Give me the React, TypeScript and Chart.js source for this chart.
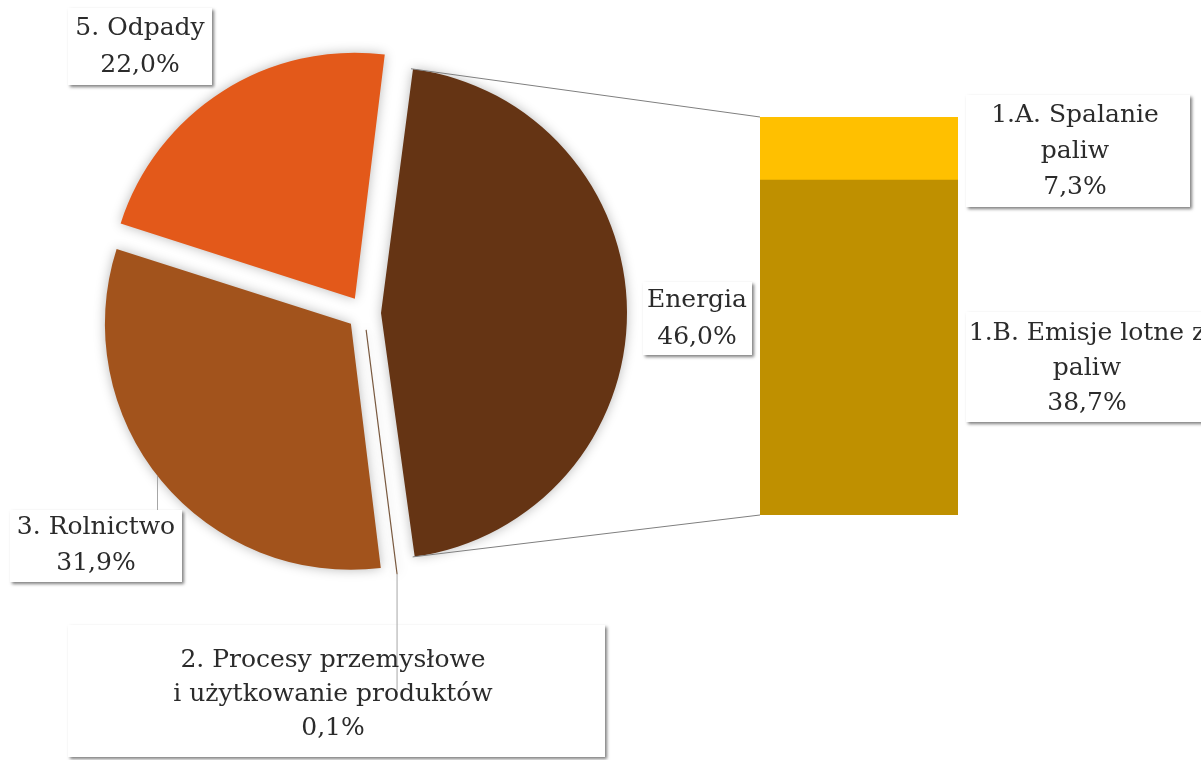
import React, { useEffect, useRef } from "react";
import { Chart, registerables } from "chart.js";

Chart.register(...registerables);

// ---- data ----
const PIE_CATEGORIES = ["Energia", "2. Procesy przemysłowe i użytkowanie produktów", "3. Rolnictwo", "5. Odpady"];
const PIE_LABEL_LINES = [["Energia"], ["2. Procesy przemysłowe", "i użytkowanie produktów"], ["3. Rolnictwo"], ["5. Odpady"]];
const PIE_VALUES = [46.0, 0.1, 31.9, 22.0];
const PIE_COLORS = ["#653414", "#7a5a40", "#A2531C", "#E3591A"];

const BAR_CATEGORIES = ["1.B. Emisje lotne z paliw", "1.A. Spalanie paliw"];
const BAR_LABEL_LINES = [["1.B. Emisje lotne z", "paliw"], ["1.A. Spalanie", "paliw"]];
const BAR_VALUES = [38.7, 7.3];
const BAR_COLORS = ["#BF9000", "#FFC000"];

// ---- layout (positions / styles) ----
const W = 1201;
const H = 760;
const PIE_CENTER = { x: 364, y: 313 };
const PIE_RADIUS = 246;
const PIE_EXPLODE = 17; // px translation of each slice
const PIE_ROTATION = 7;
const BAR_AREA = { left: 760, right: 958, top: 117, bottom: 515 };
const FONT = '25px "DejaVu Serif"';
const TEXT_COLOR = "#2b2b2b";

const PIE_BOXES = [
  { x0: 643, y0: 282, x1: 752, y1: 355, cx: 697, ys: [300, 337] },
  { x0: 68, y0: 625, x1: 605, y1: 757, cx: 333, ys: [660, 694, 728] },
  { x0: 10, y0: 510, x1: 182, y1: 582, cx: 96, ys: [527, 563] },
  { x0: 68, y0: 8, x1: 212, y1: 85, cx: 140, ys: [28, 65] },
];
const BAR_BOXES = [
  { x0: 966, y0: 312, x1: 1215, y1: 422, cx: 1087, ys: [333, 368, 403] },
  { x0: 966, y0: 95, x1: 1190, y1: 207, cx: 1075, ys: [115, 151, 187] },
];

const fmt = (v: number) => v.toFixed(1).replace(".", ",") + "%";

function drawBox(ctx: CanvasRenderingContext2D, b: any) {
  ctx.save();
  ctx.shadowColor = "rgba(0,0,0,0.5)";
  ctx.shadowOffsetX = 2;
  ctx.shadowOffsetY = 2;
  ctx.shadowBlur = 3;
  ctx.fillStyle = "#ffffff";
  ctx.fillRect(b.x0, b.y0, b.x1 - b.x0, b.y1 - b.y0);
  ctx.restore();
}

function drawText(ctx: CanvasRenderingContext2D, b: any, lines: string[]) {
  ctx.save();
  ctx.fillStyle = TEXT_COLOR;
  ctx.font = FONT;
  ctx.textAlign = "center";
  ctx.textBaseline = "middle";
  lines.forEach((t, i) => ctx.fillText(t, b.cx, b.ys[i]));
  ctx.restore();
}

function arcGeom(arc: any, offset: number) {
  const o = offset / 4;
  const mid = (arc.startAngle + arc.endAngle) / 2;
  const cx = arc.x + Math.cos(mid) * o;
  const cy = arc.y + Math.sin(mid) * o;
  return { cx, cy, mid, r: PIE_RADIUS, start: arc.startAngle, end: arc.endAngle };
}

export default function App() {
  const pieRef = useRef<HTMLCanvasElement>(null);
  const barRef = useRef<HTMLCanvasElement>(null);

  useEffect(() => {
    const offsets = PIE_VALUES.map(() => PIE_EXPLODE * 4);

    const pie = new Chart(pieRef.current!, {
      type: "pie",
      data: {
        labels: PIE_CATEGORIES,
        datasets: [
          {
            data: PIE_VALUES,
            backgroundColor: PIE_COLORS,
            borderColor: PIE_COLORS,
            borderWidth: [0, 1.2, 0, 0],
            offset: offsets,
          },
        ],
      },
      options: {
        animation: false,
        responsive: false,
        maintainAspectRatio: false,
        rotation: PIE_ROTATION,
        radius: PIE_RADIUS,
        layout: {
          padding: { left: 0, top: 0, right: W - PIE_CENTER.x * 2, bottom: H - PIE_CENTER.y * 2 },
        },
        plugins: { legend: { display: false }, tooltip: { enabled: false } },
      },
      plugins: [
        {
          id: "radiusFix",
          afterDatasetUpdate(chart: any, args: any) {
            const meta = args.meta;
            meta.data.forEach((arc: any, i: number) => {
              const o = offsets[i] / 4;
              const fix = 1 - Math.sin(Math.min(Math.PI, arc.circumference || 0));
              arc.outerRadius = PIE_RADIUS - o * fix;
            });
          },
        },
        {
          id: "pieShadow",
          beforeDatasetsDraw(chart: any) {
            const ctx = chart.ctx;
            ctx.save();
            ctx.shadowColor = "rgba(0,0,0,0.28)";
            ctx.shadowBlur = 12;
          },
          afterDatasetsDraw(chart: any) {
            chart.ctx.restore();
          },
        },
        {
          id: "pieLabels",
          afterDraw(chart: any) {
            const ctx = chart.ctx as CanvasRenderingContext2D;
            const arcs = chart.getDatasetMeta(0).data;
            PIE_BOXES.forEach((b) => drawBox(ctx, b));
            // leader lines
            ctx.save();
            ctx.strokeStyle = "#a6a6a6";
            ctx.lineWidth = 1;
            // Procesy
            const gp = arcGeom(arcs[1], offsets[1]);
            const tx = gp.cx + Math.cos(gp.mid) * gp.r;
            const ty = gp.cy + Math.sin(gp.mid) * gp.r;
            ctx.beginPath();
            ctx.moveTo(tx, ty);
            ctx.lineTo(tx, 690);
            ctx.stroke();
            // Rolnictwo
            const gr = arcGeom(arcs[2], offsets[2]);
            const lx = 157.5;
            const ly = gr.cy + Math.sqrt(gr.r * gr.r - (lx - gr.cx) * (lx - gr.cx));
            ctx.beginPath();
            ctx.moveTo(lx, ly);
            ctx.lineTo(lx, PIE_BOXES[2].y0);
            ctx.stroke();
            ctx.restore();
            PIE_BOXES.forEach((b, i) => drawText(ctx, b, [...PIE_LABEL_LINES[i], fmt(PIE_VALUES[i])]));
          },
        },
      ],
    } as any);

    const total = BAR_VALUES.reduce((a, b) => a + b, 0);
    const bar = new Chart(barRef.current!, {
      type: "bar",
      data: {
        labels: [""],
        datasets: BAR_VALUES.map((v, i) => ({
          label: BAR_CATEGORIES[i],
          data: [v],
          backgroundColor: BAR_COLORS[i],
          borderWidth: 0,
          barPercentage: 1,
          categoryPercentage: 1,
        })),
      },
      options: {
        animation: false,
        responsive: false,
        maintainAspectRatio: false,
        layout: {
          padding: { left: BAR_AREA.left, right: W - BAR_AREA.right, top: BAR_AREA.top, bottom: H - BAR_AREA.bottom },
        },
        scales: {
          x: { stacked: true, display: false },
          y: { stacked: true, display: false, min: 0, max: total },
        },
        plugins: { legend: { display: false }, tooltip: { enabled: false } },
      },
      plugins: [
        {
          id: "connectors",
          beforeDatasetsDraw(chart: any) {
            const ctx = chart.ctx as CanvasRenderingContext2D;
            const energia = pie.getDatasetMeta(0).data[0] as any;
            const g = arcGeom(energia, offsets[0]);
            const topEl = chart.getDatasetMeta(BAR_VALUES.length - 1).data[0];
            const botEl = chart.getDatasetMeta(0).data[0];
            const left = topEl.x - topEl.width / 2;
            ctx.save();
            ctx.strokeStyle = "#7f7f7f";
            ctx.lineWidth = 1;
            ctx.beginPath();
            ctx.moveTo(g.cx + Math.cos(g.start) * g.r, g.cy + Math.sin(g.start) * g.r);
            ctx.lineTo(left, topEl.y);
            ctx.moveTo(g.cx + Math.cos(g.end) * g.r, g.cy + Math.sin(g.end) * g.r);
            ctx.lineTo(left, botEl.base);
            ctx.stroke();
            ctx.restore();
          },
          afterDraw(chart: any) {
            const ctx = chart.ctx as CanvasRenderingContext2D;
            BAR_BOXES.forEach((b, i) => {
              drawBox(ctx, b);
              drawText(ctx, b, [...BAR_LABEL_LINES[i], fmt(BAR_VALUES[i])]);
            });
          },
        },
      ],
    } as any);

    return () => {
      bar.destroy();
      pie.destroy();
    };
  }, []);

  const cs: React.CSSProperties = { position: "absolute", left: 0, top: 0, width: W, height: H };
  return (
    <div style={{ position: "fixed", left: 0, top: 0, width: W, height: H, background: "#fff", overflow: "hidden" }}>
      <canvas ref={pieRef} width={W} height={H} style={cs} />
      <canvas ref={barRef} width={W} height={H} style={cs} />
    </div>
  );
}
